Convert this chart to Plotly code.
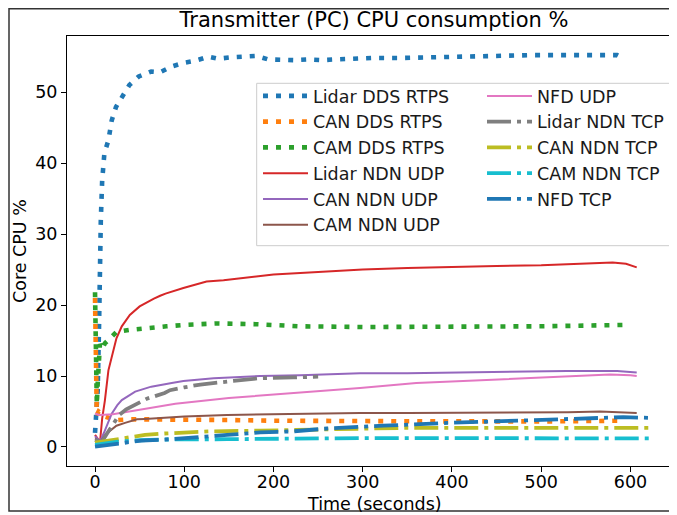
import plotly.graph_objects as go

# ---------------- data ----------------
lidar_dds_t = [0, 3, 4.5, 5.5, 6.5, 8, 9.3, 10.5, 15, 18.7, 23.5, 30, 38.5, 49, 63, 73, 86, 99, 112, 127,
               138, 153, 168, 181, 194, 209, 224, 239, 254, 269, 282, 310, 340, 370, 400, 430, 460, 490,
               520, 550, 575, 585, 591]
lidar_dds_v = [2, 8, 17, 27, 32, 37.5, 39.5, 41.4, 43.2, 46, 47.9, 49.3, 51, 52.2, 52.9, 52.8, 53.6, 54.1,
               54.4, 55.0, 54.7, 54.9, 55.0, 55.1, 54.6, 54.5, 54.5, 54.6, 54.5, 54.6, 54.7, 54.8, 54.8,
               54.9, 55.0, 55.1, 55.2, 55.2, 55.2, 55.2, 55.3, 55.2, 54.8]

can_dds_t = [0, 0.5, 1, 2, 4, 8, 11, 18, 26, 40, 60, 100, 150, 200, 300, 400, 500, 594]
can_dds_v = [21, 13, 5.5, 4.5, 5.0, 4.6, 4.3, 4.0, 3.8, 3.9, 3.9, 3.9, 3.8, 3.7, 3.6, 3.6, 3.6, 3.7]

cam_dds_t = [0, 1, 2, 3, 4, 5.5, 8, 11, 16, 24, 39, 52, 80, 100, 136, 180, 230, 300, 400, 500, 597]
cam_dds_v = [21.8, 12, 6, 9, 13, 14.5, 13.8, 14.6, 15.2, 16.2, 16.5, 16.7, 17.0, 17.2, 17.4, 17.3, 17.0,
             16.9, 16.9, 17.0, 17.2]

lidar_udp_t = [0, 5.6, 8, 11, 15, 20, 24, 30, 39, 50, 58, 66, 73, 79, 99, 125, 144, 170, 200, 230, 260,
               300, 350, 400, 450, 500, 550, 580, 595, 607]
lidar_udp_v = [1.7, 0.7, 4, 6.5, 10.8, 13.5, 15.3, 17, 18.6, 19.8, 20.4, 20.9, 21.3, 21.6, 22.4, 23.3, 23.5,
               23.9, 24.3, 24.5, 24.7, 25.0, 25.2, 25.4, 25.5, 25.6, 25.8, 26.0, 25.8, 25.3]

can_udp_t = [0, 5.6, 10, 13, 18.7, 25, 30, 45, 63, 86, 99, 133, 185, 230, 297, 350, 400, 450, 529, 585,
             600, 607]
can_udp_v = [1.5, 0.8, 2.0, 2.9, 4.7, 5.9, 6.6, 7.8, 8.5, 9.0, 9.3, 9.7, 10.0, 10.1, 10.4, 10.4, 10.5,
             10.5, 10.7, 10.7, 10.6, 10.5]

cam_udp_t = [0, 6, 12, 18.7, 24, 33.6, 47, 56, 73, 100, 148, 222, 297, 350, 450, 530, 566, 600, 607]
cam_udp_v = [1.2, 0.7, 1.8, 2.4, 3.0, 3.4, 3.9, 3.95, 4.1, 4.3, 4.5, 4.7, 4.8, 4.8, 4.8, 4.9, 5.0, 4.9, 4.8]

nfd_udp_t = [0, 5, 20, 50, 90, 150, 204, 250, 297, 360, 435, 510, 577, 600, 607]
nfd_udp_v = [4.7, 4.5, 4.6, 5.2, 6.1, 6.9, 7.4, 7.9, 8.3, 9.0, 9.4, 9.9, 10.2, 10.1, 10.0]

lidar_tcp_t = [0, 7.5, 14, 20.5, 27, 35, 45, 58, 78, 84, 100, 118, 155, 185, 222, 250]
lidar_tcp_v = [1.0, 0.7, 2.0, 3.3, 4.5, 5.3, 6.0, 6.8, 7.6, 8.0, 8.4, 8.8, 9.3, 9.7, 9.8, 9.9]

can_tcp_t = [0, 10, 20, 33.6, 56, 78, 129, 185, 250, 290, 350, 450, 550, 622]
can_tcp_v = [0.6, 0.8, 1.0, 1.3, 1.7, 1.9, 2.2, 2.3, 2.5, 2.6, 2.7, 2.7, 2.7, 2.7]

cam_tcp_t = [0, 10, 26, 50, 73, 148, 222, 300, 400, 500, 622]
cam_tcp_v = [0.3, 0.5, 0.75, 0.95, 1.05, 1.1, 1.2, 1.25, 1.25, 1.25, 1.2]

nfd_tcp_t = [0, 22, 52, 73, 110, 148, 185, 222, 260, 297, 323, 398, 472, 547, 592, 622]
nfd_tcp_v = [0.05, 0.4, 0.9, 1.0, 1.3, 1.7, 2.05, 2.2, 2.6, 2.9, 3.0, 3.4, 3.7, 4.0, 4.2, 4.1]

x_ticks = [0, 100, 200, 300, 400, 500, 600]
y_ticks = [0, 10, 20, 30, 40, 50]

# ---------------- figure ----------------
FONT = "DejaVu Sans"
DOT = dict(width=4.6, dash="5px,8px")
DASHDOT = dict(width=3.8, dash="24px,6px,4px,6px")
SOLID = dict(width=2)

series = [
    ("Lidar DDS RTPS", lidar_dds_t, lidar_dds_v, "#1f77b4", DOT, "legend"),
    ("CAN DDS RTPS", can_dds_t, can_dds_v, "#ff7f0e", DOT, "legend"),
    ("CAM DDS RTPS", cam_dds_t, cam_dds_v, "#2ca02c", DOT, "legend"),
    ("Lidar NDN UDP", lidar_udp_t, lidar_udp_v, "#d62728", SOLID, "legend"),
    ("CAN NDN UDP", can_udp_t, can_udp_v, "#9467bd", SOLID, "legend"),
    ("CAM NDN UDP", cam_udp_t, cam_udp_v, "#8c564b", SOLID, "legend"),
    ("NFD UDP", nfd_udp_t, nfd_udp_v, "#e377c2", SOLID, "legend2"),
    ("Lidar NDN TCP", lidar_tcp_t, lidar_tcp_v, "#7f7f7f", DASHDOT, "legend2"),
    ("CAN NDN TCP", can_tcp_t, can_tcp_v, "#bcbd22", DASHDOT, "legend2"),
    ("CAM NDN TCP", cam_tcp_t, cam_tcp_v, "#17becf", DASHDOT, "legend2"),
    ("NFD TCP", nfd_tcp_t, nfd_tcp_v, "#1f77b4", DASHDOT, "legend2"),
]

fig = go.Figure()
for i, (name, t, v, color, style, leg) in enumerate(series):
    fig.add_trace(go.Scatter(
        x=t, y=v, mode="lines", name=name, legend=leg, legendgroup=f"g{i}",
        line=dict(color=color, **style),
    ))

# The page body adds an 8px offset; positions below are given in screenshot pixels
OFF = 8
W, H = 677, 515
L, R, T, B = 67 - OFF, 0, 36 - OFF, H - (466 - OFF)
pw, ph = W - L - R, H - T - B


def px_x(p):
    return (p - OFF - L) / pw


def px_y(p):
    return (H - B - (p - OFF)) / ph


legend_common = dict(
    bgcolor="rgba(0,0,0,0)", borderwidth=0, font=dict(family=FONT, size=17.5, color="#1a1a1a"),
    xanchor="left", yanchor="top", tracegroupgap=2, itemwidth=45, traceorder="normal",
)

fig.update_layout(
    width=W, height=H,
    margin=dict(l=L, r=R, t=T, b=B),
    paper_bgcolor="white", plot_bgcolor="white",
    font=dict(family=FONT, size=17.5, color="black"),
    title=dict(text="Transmitter (PC) CPU consumption %", font=dict(family=FONT, size=21, color="black"),
               x=px_x(374), xref="paper", xanchor="center", y=1 - (20 - OFF) / H, yref="container",
               yanchor="middle"),
    xaxis=dict(range=[-31.4, 661.1], tickvals=x_ticks, showgrid=False, zeroline=False,
               showline=True, linecolor="black", linewidth=1, mirror=True,
               ticks="outside", ticklen=5, tickcolor="black", tickwidth=1, ticklabelstandoff=-5,
               tickfont=dict(family=FONT, size=17.5, color="black")),
    yaxis=dict(range=[-2.68, 57.9], tickvals=y_ticks, showgrid=False, zeroline=False,
               showline=True, linecolor="black", linewidth=1,
               ticks="outside", ticklen=5, tickcolor="black", tickwidth=1,
               tickfont=dict(family=FONT, size=17.5, color="black")),
    legend=dict(x=px_x(258), y=px_y(78), **legend_common),
    legend2=dict(x=px_x(482), y=px_y(78), **legend_common),
    showlegend=True,
)

# legend frame
fig.add_shape(type="rect", xref="paper", yref="paper",
              x0=px_x(256.7), x1=px_x(674), y0=px_y(245.7), y1=px_y(83.3),
              line=dict(color="#cccccc", width=1), fillcolor="rgba(255,255,255,0.8)", layer="above")
# outer figure frame
fig.add_shape(type="rect", xref="paper", yref="paper",
              x0=px_x(9), x1=px_x(700), y0=px_y(511), y1=px_y(8.8),
              line=dict(color="#333333", width=1.5), fillcolor="rgba(0,0,0,0)", layer="above")

# axis titles
fig.add_annotation(text="Time (seconds)", xref="paper", yref="paper", x=px_x(374), y=px_y(504),
                   xanchor="center", yanchor="middle", showarrow=False,
                   font=dict(family=FONT, size=17.5, color="black"))
fig.add_annotation(text="Core CPU %", xref="paper", yref="paper", x=px_x(20), y=px_y(251),
                   xanchor="center", yanchor="middle", showarrow=False, textangle=-90,
                   font=dict(family=FONT, size=17.5, color="black"))

fig.write_html("out.html")
